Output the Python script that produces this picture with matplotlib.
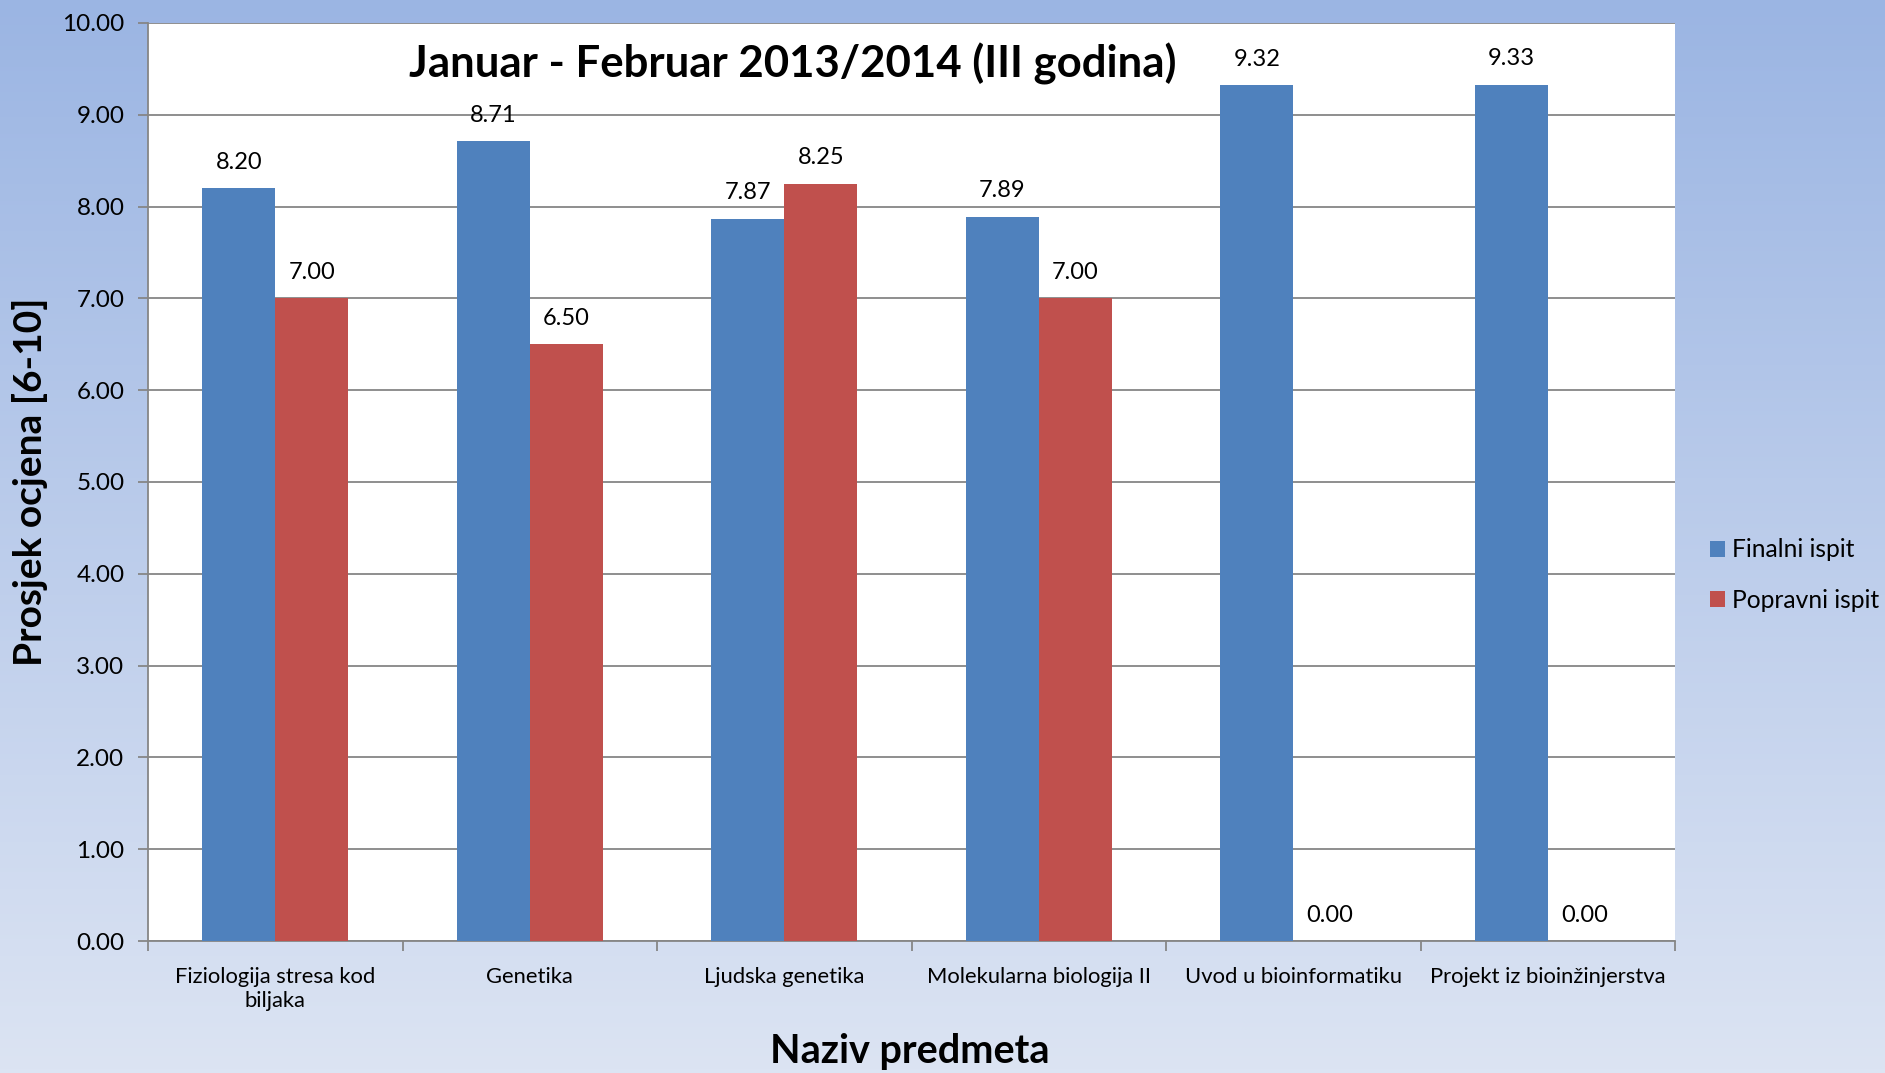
import numpy as np
import matplotlib
matplotlib.use('Agg')
import matplotlib.pyplot as plt
from matplotlib.colors import LinearSegmentedColormap

subjects = ['Fiziologija stresa kod\nbiljaka', 'Genetika', 'Ljudska genetika',
            'Molekularna biologija II', 'Uvod u bioinformatiku', 'Projekt iz bioinžinjerstva']
finalni = [8.20, 8.71, 7.87, 7.89, 9.32, 9.33]
popravni = [7.00, 6.50, 8.25, 7.00, 0.00, 0.00]
yticks = [0, 1, 2, 3, 4, 5, 6, 7, 8, 9, 10]

plt.rcParams['font.family'] = ['Lato', 'DejaVu Sans']

W, H = 1885, 1073
fig = plt.figure(figsize=(W / 100, H / 100), dpi=100)

# background gradient
bg = fig.add_axes([0, 0, 1, 1], zorder=-10)
cmap = LinearSegmentedColormap.from_list('bg', ['#9BB5E3', '#DCE4F3'])
bg.imshow(np.linspace(0, 1, 256).reshape(-1, 1), aspect='auto', cmap=cmap,
          extent=[0, 1, 0, 1], origin='upper')
bg.axis('off')

left, right, top, bottom = 148, 1675, 23, 941
ax = fig.add_axes([left / W, 1 - bottom / H, (right - left) / W, (bottom - top) / H])
ax.set_facecolor('white')

x = np.arange(len(subjects))
w = 0.287
b1 = ax.bar(x - w / 2, finalni, w, color='#4F81BD', label='Finalni ispit', zorder=3)
b2 = ax.bar(x + w / 2, popravni, w, color='#C0504D', label='Popravni ispit', zorder=3)

for bars, vals in ((b1, finalni), (b2, popravni)):
    for r, v in zip(bars, vals):
        ax.annotate('%.2f' % v, (r.get_x() + r.get_width() / 2, v),
                    xytext=(0, 11), textcoords='offset points',
                    ha='center', va='bottom', fontsize=17)

ax.set_ylim(0, 10)
ax.set_xlim(-0.5, len(subjects) - 0.5)
ax.set_yticks(yticks)
ax.set_yticklabels(['%.2f' % t for t in yticks], fontsize=17.5)
ax.yaxis.grid(True, color='#868686', linewidth=1.3, zorder=0)
ax.set_xticks(x)
ax.set_xticklabels(subjects, fontsize=15.8)
ax.set_xticks(np.arange(-0.5, len(subjects)), minor=True)
ax.tick_params(axis='x', which='major', length=0, pad=19)
ax.tick_params(axis='x', which='minor', length=7, color='#868686', width=1.3)
ax.tick_params(axis='y', length=7, color='#868686', width=1.3, pad=10)
for s in ('top', 'right'):
    ax.spines[s].set_visible(False)
for s in ('left', 'bottom'):
    ax.spines[s].set_color('#868686')
    ax.spines[s].set_linewidth(1.3)

ax.text(0.422, 0.955, 'Januar - Februar 2013/2014 (III godina)', transform=ax.transAxes,
        ha='center', va='center', fontsize=31.5, fontweight='bold')
fig.text(30 / W, 1 - 482 / H, 'Prosjek ocjena [6-10]', rotation=90,
         ha='center', va='center', fontsize=28, fontweight='bold')
fig.text(910 / W, 1 - 1052 / H, 'Naziv predmeta', ha='center', va='center',
         fontsize=28.5, fontweight='bold')

fig.legend(handles=[b1, b2], loc='center left', bbox_to_anchor=(1710 / W, 1 - 575 / H),
           frameon=False, fontsize=17.7, handlelength=0.6, handleheight=0.6,
           handletextpad=0.3, labelspacing=1.1, borderpad=0, borderaxespad=0)

fig.savefig('out.png', dpi=100)
